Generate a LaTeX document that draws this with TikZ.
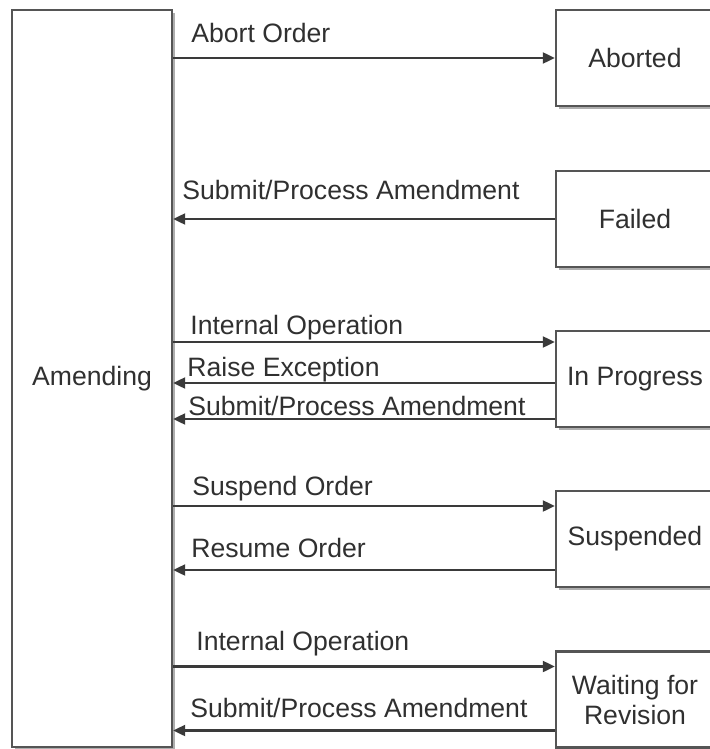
\documentclass[tikz,border=0pt]{standalone}
\usepackage{fontspec}
\setmainfont{Liberation Sans}
\usetikzlibrary{arrows.meta,shadows}
\definecolor{boxc}{HTML}{555555}
\definecolor{linec}{HTML}{3A3A3A}
\definecolor{txt}{HTML}{303030}
\begin{document}
\begin{tikzpicture}[x=0.5pt,y=-0.5pt,
  state/.style={draw=boxc, line width=1.2pt, fill=white, align=center,
    font=\fontsize{13.3}{15}\selectfont, text=txt, inner sep=0pt,
    drop shadow={shadow xshift=1.5pt, shadow yshift=-1.5pt, fill=black!45, opacity=0.7}},
  rbox/.style={state, minimum width=79pt, minimum height=48pt},
  arr/.style={draw=linec, line width=1.1pt, -{Triangle[length=6pt,width=5.5pt]}},
  lbl/.style={font=\fontsize{13.3}{15}\selectfont, text=txt, anchor=base west, inner sep=0pt}
]
\useasboundingbox (0,0) rectangle (710,749);
\begin{scope}
\clip (0,0) rectangle (710,749);
\node[state, minimum width=80pt, minimum height=368.5pt] (amend) at (92,378.5) {Amending};
\node[rbox] (aborted)  at (635,58)    {Aborted};
\node[rbox] (failed)   at (635,219)   {Failed};
\node[rbox] (inprog)   at (635,379)   {In Progress};
\node[rbox] (susp)     at (635,539)   {Suspended};
\node[rbox] (waiting)  at (635,699.5) {Waiting for\\Revision};
\end{scope}

\coordinate (ip1) at ([yshift=18.5pt]inprog.west);
\coordinate (ip2) at ([yshift=-2pt]inprog.west);
\coordinate (ip3) at ([yshift=-20pt]inprog.west);
\coordinate (su1) at ([yshift=16.5pt]susp.west);
\coordinate (su2) at ([yshift=-15.5pt]susp.west);
\coordinate (wa1) at ([yshift=16.5pt]waiting.west);
\coordinate (wa2) at ([yshift=-15.5pt]waiting.west);

\draw[arr] (amend.east |- aborted.west) -- (aborted.west);
\draw[arr] (failed.west) -- (amend.east |- failed.west);
\draw[arr] (amend.east |- ip1) -- (ip1);
\draw[arr] (ip2) -- (amend.east |- ip2);
\draw[arr] (ip3) -- (amend.east |- ip3);
\draw[arr] (amend.east |- su1) -- (su1);
\draw[arr] (su2) -- (amend.east |- su2);
\draw[arr] (amend.east |- wa1) -- (wa1);
\draw[arr] (wa2) -- (amend.east |- wa2);

\node[lbl] (l1) at (191,43)  {Abort Order};
\node[lbl] (l2) at (182,199) {Submit/Process Amendment};
\node[lbl] (l3) at (190,334) {Internal Operation};
\node[lbl] (l4) at (187,376) {Raise Exception};
\node[lbl] (l5) at (188,415) {Submit/Process Amendment};
\node[lbl] (l6) at (192,495) {Suspend Order};
\node[lbl] (l7) at (191,557) {Resume Order};
\node[lbl] (l8) at (196,650) {Internal Operation};
\node[lbl] (l9) at (190,717) {Submit/Process Amendment};
\end{tikzpicture}
\end{document}
